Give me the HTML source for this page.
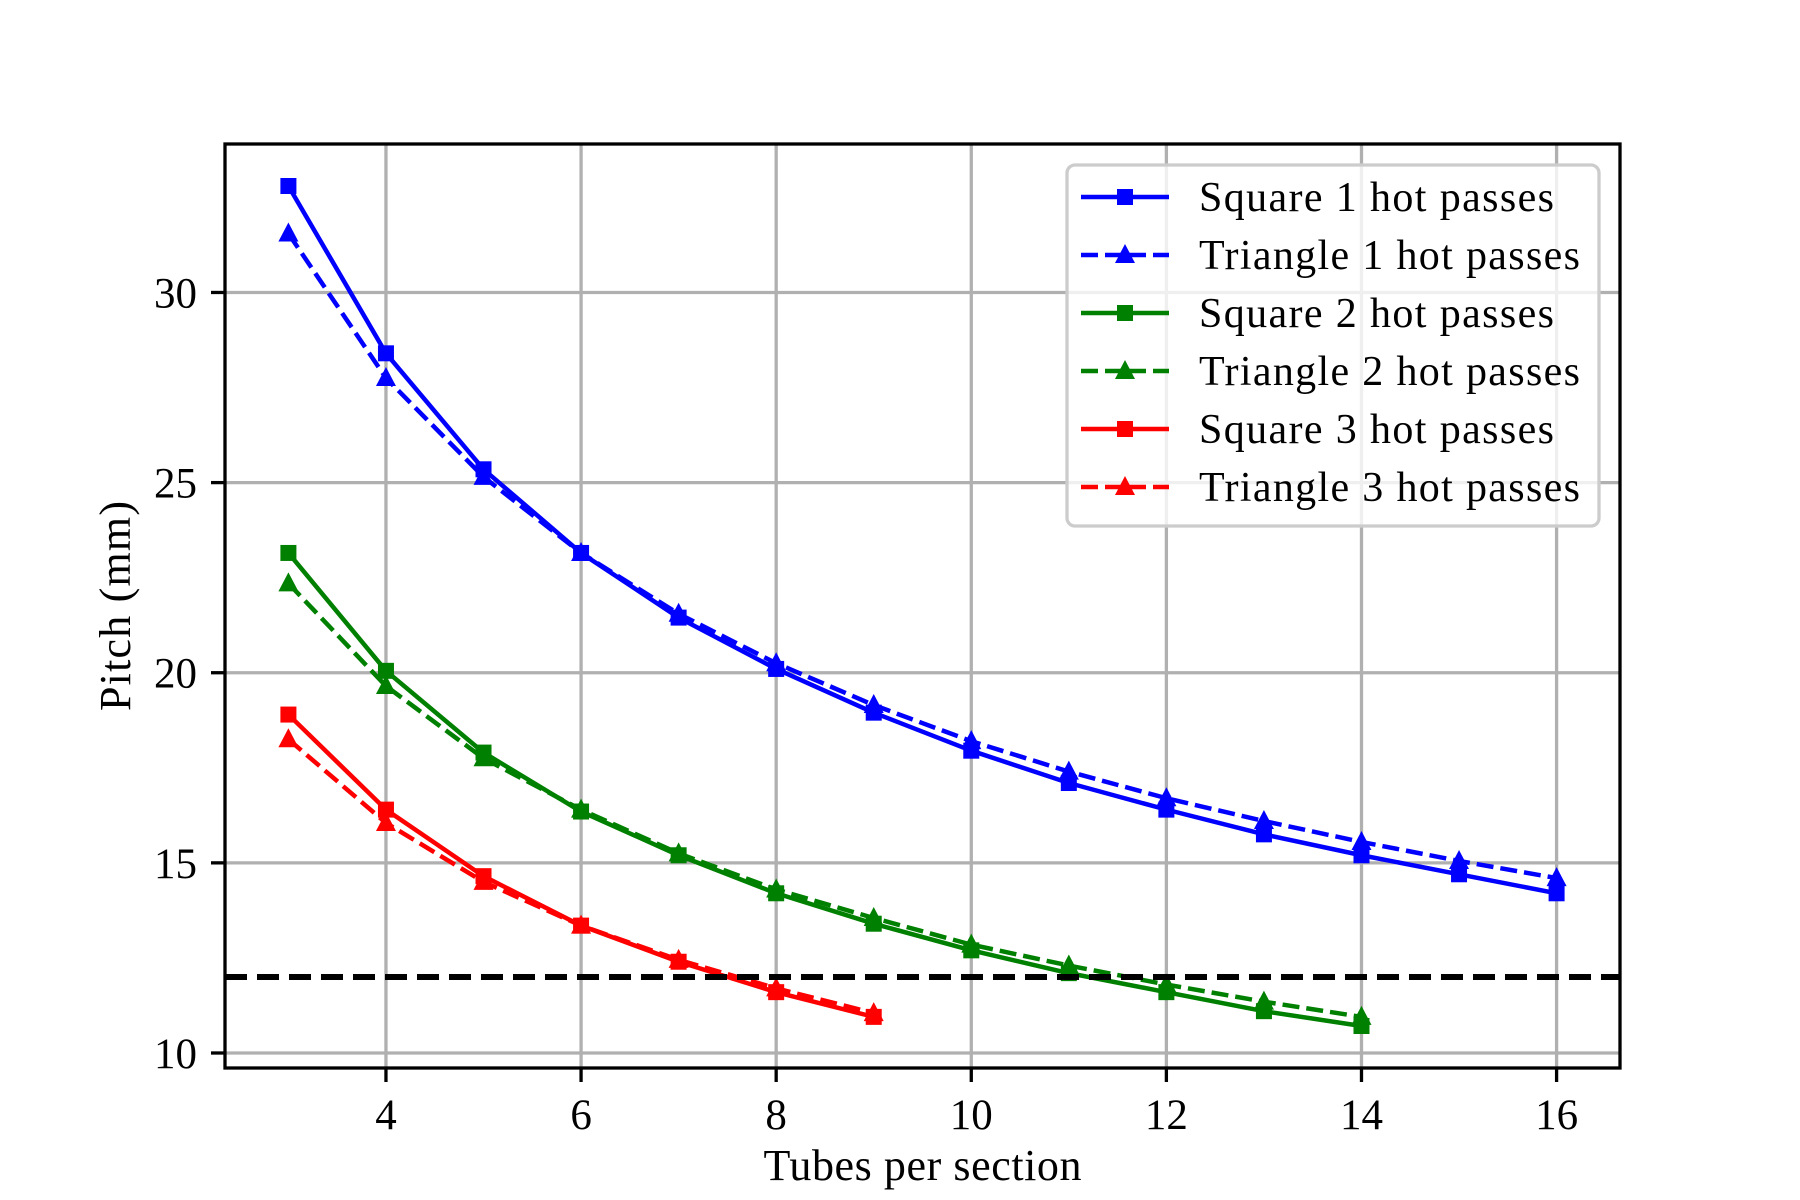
<!DOCTYPE html>
<html><head><meta charset="utf-8"><style>
html,body{margin:0;padding:0;background:#fff}
svg{display:block;font-family:"Liberation Serif",serif}
</style></head><body>
<svg id="chart" width="1800" height="1200" viewBox="0 0 1800 1200">
<rect x="0" y="0" width="1800" height="1200" fill="#fff"/>
<g id="grid"></g>
<g id="series"></g>
<g id="axes"></g>
<g id="legend"></g>
</svg>
<script>
const xs1 = [3,4,5,6,7,8,9,10,11,12,13,14,15,16];
const xs2 = [3,4,5,6,7,8,9,10,11,12,13,14];
const xs3 = [3,4,5,6,7,8,9];
const square1 = [32.8,28.4,25.35,23.15,21.45,20.1,18.95,17.95,17.1,16.4,15.75,15.2,14.7,14.2];
const triangle1 = [31.55,27.75,25.15,23.15,21.55,20.25,19.15,18.2,17.4,16.7,16.1,15.55,15.05,14.6];
const square2 = [23.15,20.05,17.9,16.35,15.2,14.2,13.4,12.7,12.1,11.6,11.1,10.71];
const triangle2 = [22.35,19.65,17.75,16.4,15.25,14.3,13.55,12.85,12.3,11.8,11.35,10.95];
const square3 = [18.9,16.4,14.65,13.35,12.4,11.6,10.95];
const triangle3 = [18.25,16.05,14.5,13.35,12.45,11.7,11.05];
const limitValue = 12;
const xTicks = [4,6,8,10,12,14,16];
const yTicks = [10,15,20,25,30];
const labels = ["Square 1 hot passes","Triangle 1 hot passes","Square 2 hot passes","Triangle 2 hot passes","Square 3 hot passes","Triangle 3 hot passes"];

const NS="http://www.w3.org/2000/svg";
const L=225,R=1620,T=144,B=1068;
const xmin=2.35,xmax=16.65;
const allY=[].concat(square1,triangle1,square2,triangle2,square3,triangle3);
const dmin=Math.min(...allY),dmax=Math.max(...allY),pad=(dmax-dmin)*0.05;
const ymin=dmin-pad,ymax=dmax+pad;
const X=v=>L+(v-xmin)/(xmax-xmin)*(R-L);
const Y=v=>B-(v-ymin)/(ymax-ymin)*(B-T);
function mk(tag,attrs,parent){const e=document.createElementNS(NS,tag);for(const k in attrs)e.setAttribute(k,attrs[k]);parent.appendChild(e);return e;}
const grid=document.getElementById('grid'),ser=document.getElementById('series'),axes=document.getElementById('axes'),leg=document.getElementById('legend');

xTicks.forEach(t=>{
  const g=mk('line',{x1:X(t),x2:X(t),y1:T,y2:B,stroke:'#b0b0b0','stroke-width':3.3},grid);
  
  
  const tk=mk('line',{x1:X(t),x2:X(t),y1:B,y2:B+14,stroke:'#000','stroke-width':3.3},axes);
  
  
  const tx=mk('text',{x:X(t),y:1129,'text-anchor':'middle','font-size':43},axes);
  tx.textContent=t;
  
  
});
yTicks.forEach(t=>{
  const g=mk('line',{x1:L,x2:R,y1:Y(t),y2:Y(t),stroke:'#b0b0b0','stroke-width':3.3},grid);
  
  
  const tk=mk('line',{x1:L-14,x2:L,y1:Y(t),y2:Y(t),stroke:'#000','stroke-width':3.3},axes);
  
  
  const tx=mk('text',{x:197,y:Y(t)+15,'text-anchor':'end','font-size':43},axes);
  tx.textContent=t;
  
  
});

function sq(x,y,c,p){return mk('rect',{x:x-8,y:y-8,width:16,height:16,fill:c},p);}
function tri(x,y,c,p){return mk('polygon',{points:`${x},${y-11} ${x+10},${y+8} ${x-10},${y+8}`,fill:c},p);}
const defs=[[xs1,square1,'#0000ff',false],[xs1,triangle1,'#0000ff',true],[xs2,square2,'#008000',false],[xs2,triangle2,'#008000',true],[xs3,square3,'#ff0000',false],[xs3,triangle3,'#ff0000',true]];
const names=['square-1-series','triangle-1-series','square-2-series','triangle-2-series','square-3-series','triangle-3-series'];
defs.forEach((d,i)=>{
  const [xv,yv,c,dash]=d;
  const g=mk('g',{},ser);
  
  
  const pts=xv.map((x,j)=>X(x)+','+Y(yv[j])).join(' ');
  const pl=mk('polyline',{points:pts,fill:'none',stroke:c,'stroke-width':4.5,'stroke-dasharray':dash?'17 7':'none','stroke-linejoin':'round'},g);
  
  
  xv.forEach((x,j)=>{
    const m=dash?tri(X(x),Y(yv[j]),c,g):sq(X(x),Y(yv[j]),c,g);
    
    
  });
});
const hl=mk('line',{x1:L,x2:R,y1:Y(limitValue),y2:Y(limitValue),stroke:'#000','stroke-width':6,'stroke-dasharray':'22 10'},ser);



const fr=mk('rect',{x:L,y:T,width:R-L,height:B-T,fill:'none',stroke:'#000','stroke-width':3.3},axes);


const xl=mk('text',{x:(L+R)/2,y:1180,'text-anchor':'middle','font-size':44,textLength:318},axes);
xl.textContent='Tubes per section';


const yl=mk('text',{x:0,y:0,'text-anchor':'middle','font-size':44,textLength:210,transform:`translate(130,${(T+B)/2}) rotate(-90)`},axes);
yl.textContent='Pitch (mm)';



const lb=mk('rect',{x:1067,y:165,width:532,height:361,rx:8,fill:'#fff','fill-opacity':0.8,stroke:'#cccccc','stroke-width':3.3},leg);


defs.forEach((d,i)=>{
  const [,, c,dash]=d;
  const y=197+i*58;
  const g=mk('g',{},leg);
  
  
  mk('line',{x1:1081,x2:1169,y1:y,y2:y,stroke:c,'stroke-width':4.5,'stroke-dasharray':dash?'17 7':'none'},g);
  if(dash)tri(1125,y,c,g);else sq(1125,y,c,g);
  const t=mk('text',{x:1199,y:y+14,'font-size':42},g);
  t.textContent=labels[i];
  t.setAttribute('textLength',dash?381:355);
});
</script>
</body></html>
